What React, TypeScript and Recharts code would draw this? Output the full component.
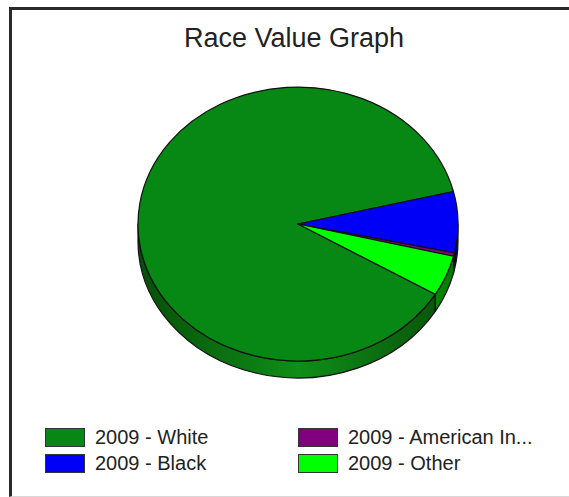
import React from "react";
import { PieChart, Pie, Cell, Legend } from "recharts";

const YEAR = "2009";
const categories = ["White", "Black", "American Indian", "Other"];
const values = [87.6, 7.2, 0.4, 4.8];

const COLORS = ["#078815", "#0000f6", "#800080", "#00ff00"];
const WALL_EDGE = ["#064f08", "#00006a", "#3a003a", "#007a00"];
const WALL_MID = ["#0f8e18", "#0000c8", "#700070", "#00d800"];

const names = categories.map((c) => `${YEAR} - ${c}`);
const data = names.map((n, i) => ({ name: n, value: values[i] }));

const K = 0.856;
const DEPTH = 17;
const CX = 298;
const CY = 224;
const R = 160;

const rad = (d: number) => (d * Math.PI) / 180;
const pt = (cx: number, cy: number, r: number, a: number, dy = 0) => [
  cx + r * Math.cos(rad(a)),
  cy - r * K * Math.sin(rad(a)) + dy,
];

function TopShape(props: any) {
  const { cx, cy, outerRadius: r, startAngle: s, endAngle: e, fill } = props;
  const [x1, y1] = pt(cx, cy, r, s);
  const [x2, y2] = pt(cx, cy, r, e);
  const large = Math.abs(e - s) > 180 ? 1 : 0;
  const sweep = s > e ? 1 : 0;
  const d = `M${cx},${cy} L${x1},${y1} A${r},${r * K} 0 ${large} ${sweep} ${x2},${y2} Z`;
  return <path d={d} fill={fill} stroke="#111" strokeWidth={1.2} strokeLinejoin="round" />;
}

function WallShape(props: any) {
  const { cx, cy, outerRadius: r, startAngle, endAngle, fill } = props;
  const a = Math.min(startAngle, endAngle);
  const b = Math.max(startAngle, endAngle);
  const parts: number[][] = [];
  for (let n = -2; n <= 1; n++) {
    const lo = Math.max(a, 180 + 360 * n);
    const hi = Math.min(b, 360 + 360 * n);
    if (hi - lo > 0.01) parts.push([lo, hi]);
  }
  return (
    <g>
      {parts.map(([lo, hi], i) => {
        const [x1, y1] = pt(cx, cy, r, lo);
        const [x2, y2] = pt(cx, cy, r, hi);
        const d = `M${x1},${y1} A${r},${r * K} 0 0 0 ${x2},${y2} L${x2},${y2 + DEPTH} A${r},${r * K} 0 0 1 ${x1},${y1 + DEPTH} Z`;
        return <path key={i} d={d} fill={fill} stroke="#111" strokeWidth={1.2} strokeLinejoin="round" />;
      })}
    </g>
  );
}

const truncate = (s: string) => (s.length > 18 ? s.slice(0, 18) + "..." : s);

const renderLegend = (props: any) => {
  const raw = (props.payload || []).filter(
    (p: any) => p.type !== "none" && !String(p.color || "").startsWith("url(")
  );
  const seen = new Set<string>();
  const items = raw
    .filter((p: any) => {
      const k = String(p.value);
      if (seen.has(k)) return false;
      seen.add(k);
      return true;
    })
    .sort((a: any, b: any) => names.indexOf(String(a.value)) - names.indexOf(String(b.value)));
  return (
    <div
      style={{
        display: "grid",
        gridTemplateRows: "repeat(2, 26px)",
        gridAutoFlow: "column",
        gridTemplateColumns: "253px 253px",
        fontFamily: "'Liberation Sans', Arial, sans-serif",
        fontSize: 20,
        color: "#222",
      }}
    >
      {items.map((p: any, i: number) => (
        <div key={i} style={{ display: "flex", alignItems: "flex-start", height: 26, whiteSpace: "nowrap" }}>
          <span
            style={{
              display: "inline-block",
              flex: "none",
              width: 38,
              height: 17,
              background: p.color,
              border: "1px solid #333",
              marginRight: 10,
            }}
          />
          <span style={{ display: "inline-block", lineHeight: "19px", height: 19 }}>{truncate(String(p.value))}</span>
        </div>
      ))}
    </div>
  );
};

export default function App() {
  return (
    <div style={{ position: "absolute", left: 0, top: 0, width: 569, height: 497, background: "#fff", overflow: "hidden" }}>
      <div
        style={{
          position: "absolute",
          left: 9,
          top: 7,
          width: 620,
          height: 486,
          borderLeft: "3px solid #2a2a2a",
          borderTop: "3px solid #2a2a2a",
          borderBottom: "1px solid #d8d8d8",
        }}
      />
      <div
        style={{
          position: "absolute",
          left: 0,
          top: 25,
          width: 588,
          textAlign: "center",
          fontFamily: "'Liberation Sans', Arial, sans-serif",
          fontSize: 27,
          lineHeight: "27px",
          color: "#222",
        }}
      >
        Race Value Graph
      </div>
      <div style={{ position: "absolute", left: 0, top: 0 }}>
        <PieChart width={569} height={497} margin={{ top: 0, right: 0, bottom: 0, left: 0 }}>
          <defs>
            {COLORS.map((c, i) => (
              <linearGradient key={i} id={`wall${i}`} gradientUnits="userSpaceOnUse" x1={CX - R} y1={0} x2={CX + R} y2={0}>
                <stop offset="0%" stopColor={WALL_EDGE[i]} />
                <stop offset="50%" stopColor={WALL_MID[i]} />
                <stop offset="100%" stopColor={WALL_EDGE[i]} />
              </linearGradient>
            ))}
          </defs>
          <Pie
            data={data}
            dataKey="value"
            nameKey="name"
            cx={CX}
            cy={CY}
            outerRadius={R}
            startAngle={-30.9}
            endAngle={-390.9}
            isAnimationActive={false}
            legendType="none"
            shape={WallShape}
            inactiveShape={WallShape}
            stroke="none"
          >
            {data.map((d, i) => (
              <Cell key={i} fill={`url(#wall${i})`} />
            ))}
          </Pie>
          <Pie
            data={data}
            dataKey="value"
            nameKey="name"
            cx={CX}
            cy={CY}
            outerRadius={R}
            startAngle={-30.9}
            endAngle={-390.9}
            isAnimationActive={false}
            shape={TopShape}
            inactiveShape={TopShape}
          >
            {data.map((d, i) => (
              <Cell key={i} fill={COLORS[i]} />
            ))}
          </Pie>
          <Legend
            content={renderLegend}
            wrapperStyle={{ position: "absolute", left: 45, top: 428, width: 520, height: 52 }}
          />
        </PieChart>
      </div>
    </div>
  );
}
